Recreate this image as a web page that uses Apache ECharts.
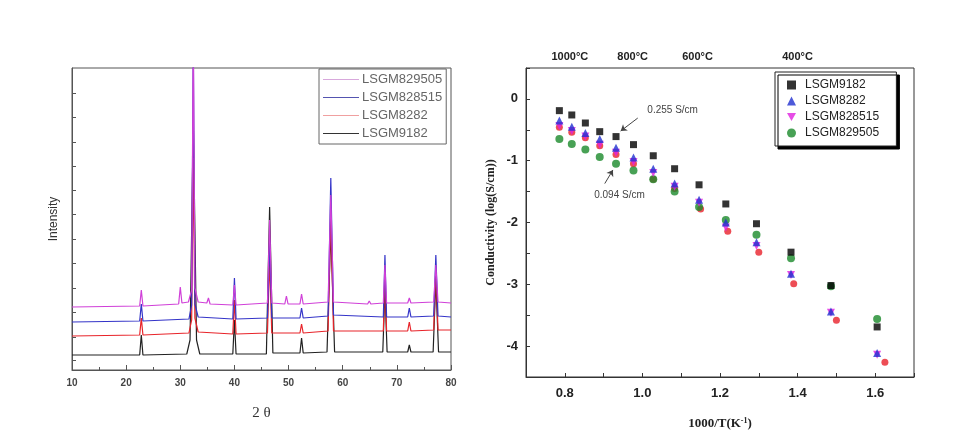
<!DOCTYPE html>
<html><head><meta charset="utf-8">
<script src="https://cdn.jsdelivr.net/npm/echarts@6/dist/echarts.min.js"></script>
<style>html,body{margin:0;padding:0;background:#fff}#c{width:979px;height:448px}</style>
</head><body><div id="c"></div>
<script>
// ---------- Left panel: XRD patterns [2theta, intensity] ----------
const xrd829505 = [[10,63],[22.5,64],[22.8,80],[23.1,64],[29.7,66],[30.0,83],[30.3,67],[31.5,68],[32.1,80],[32.4,340],[32.7,82],[33.3,68],[34.9,67],[35.2,72],[35.5,66],[39.7,65],[40.0,85],[40.3,65],[46.1,67],[46.5,150],[46.9,67],[49.3,66],[49.6,74],[49.9,66],[52.1,66],[52.4,76],[52.7,66],[57.3,68],[57.8,175],[58.3,68],[64.6,66],[64.9,69],[65.2,66],[67.5,67],[67.8,105],[68.1,67],[72.0,67],[72.3,72],[72.6,67],[76.8,68],[77.2,105],[77.6,68],[80,67]];
const xrd828515 = [[10,48],[22.5,49],[22.8,66],[23.1,49],[31.6,51],[32.1,65],[32.4,330],[32.7,66],[33.3,53],[39.7,51],[40.0,92],[40.3,51],[46.1,52],[46.5,130],[46.9,52],[52.1,52],[52.4,62],[52.7,52],[57.3,54],[57.8,192],[58.3,55],[67.5,53],[67.8,115],[68.1,53],[72.0,53],[72.3,62],[72.6,53],[76.8,54],[77.2,115],[77.6,54],[80,53]];
const xrd8282 = [[10,34],[22.5,35],[22.8,52],[23.1,35],[31.6,37],[32.1,50],[32.4,212],[32.7,52],[33.3,38],[39.7,36],[40.0,70],[40.3,36],[46.1,37],[46.5,110],[46.9,37],[52.1,37],[52.4,46],[52.7,37],[57.3,39],[57.8,158],[58.3,39],[67.5,39],[67.8,95],[68.1,39],[72.0,39],[72.3,48],[72.6,39],[76.8,40],[77.2,100],[77.6,40],[80,40]];
const xrd9182 = [[10,15],[22.5,15],[22.8,35],[23.1,15],[31.2,16],[31.8,30],[32.4,250],[33.0,30],[33.6,16],[39.7,16],[40.0,50],[40.3,16],[45.9,16],[46.5,163],[47.1,17],[52.1,17],[52.4,32],[52.7,17],[57.1,18],[57.8,140],[58.5,18],[67.4,18],[67.8,80],[68.2,18],[72.0,18],[72.3,25],[72.6,18],[76.7,18],[77.2,90],[77.7,18],[80,18]];
const xrdTickValues = [10,33,58,82,107,131,156,180,204,228,253,277];

// ---------- Right panel: conductivity ----------
const invT = [0.786,0.818,0.853,0.890,0.932,0.977,1.028,1.083,1.146,1.215,1.294,1.383,1.486,1.605];
const invT_r = [0.786,0.818,0.853,0.890,0.932,0.977,1.028,1.083,1.150,1.220,1.300,1.390,1.500,1.625];
const cond9182   = [-0.19,-0.26,-0.39,-0.53,-0.61,-0.74,-0.92,-1.13,-1.39,-1.70,-2.02,-2.48,-3.02,-3.69];
const cond8282   = [-0.35,-0.45,-0.55,-0.65,-0.79,-0.95,-1.13,-1.37,-1.63,-2.00,-2.32,-2.83,-3.44,-4.11];
const cond828515 = [-0.44,-0.52,-0.61,-0.74,-0.87,-1.02,-1.20,-1.42,-1.68,-2.08,-2.38,-2.85,-3.46,-4.14];
const cond829505 = [-0.65,-0.73,-0.82,-0.94,-1.05,-1.16,-1.30,-1.50,-1.75,-1.96,-2.20,-2.58,-3.03,-3.56];
const condRed    = [-0.46,-0.54,-0.63,-0.76,-0.90,-1.05,-1.30,-1.45,-1.78,-2.14,-2.48,-2.99,-3.58,-4.26];
const xLabelValues = [0.8, 1.0, 1.2, 1.4, 1.6];
const xTickValues = [0.7,0.8,0.9,1.0,1.1,1.2,1.3,1.4,1.5,1.6,1.7];
const yLabelValues = [-4, -3, -2, -1, 0];
const yTickValues = [-4.5,-4,-3.5,-3,-2.5,-2,-1.5,-1,-0.5,0,0.5];
const tempLabelPos = [0.813,0.975,1.142,1.400];
const tempLabels = ['1000°C','800°C','600°C','400°C'];

const zip = (xs, ys) => xs.map((x, i) => [x, ys[i]]);

const chart = echarts.init(document.getElementById('c'));
const axisCol = '#333';
const lineIcon = 'path://M0,6.5 L36,6.5 L36,7.7 L0,7.7 Z';
chart.setOption({
  animation: false,
  backgroundColor: '#fff',
  grid: [
    {left: 72, right: 528, top: 68, bottom: 78, show: true, borderColor: '#555', borderWidth: 1},
    {left: 526, right: 65, top: 68, bottom: 71, show: true, borderColor: '#333', borderWidth: 1}
  ],
  xAxis: [
    {gridIndex: 0, type: 'value', min: 10, max: 80, interval: 10,
     name: '2 θ', nameLocation: 'middle', nameGap: 36,
     nameTextStyle: {fontFamily: 'Liberation Serif', fontSize: 15, color: '#333'},
     axisLine: {onZero: false, lineStyle: {color: '#555'}},
     axisTick: {inside: true, length: 5, lineStyle: {color: '#555'}},
     minorTick: {show: true, splitNumber: 2, length: 3, lineStyle: {color: '#555'}},
     splitLine: {show: false},
     axisLabel: {fontFamily: 'Liberation Sans', fontSize: 10, fontWeight: 'bold', color: '#444', margin: 8}},
    {gridIndex: 1, type: 'value', min: 0.7, max: 1.7,
     name: '1000/T(K{sup|-1})', nameLocation: 'middle', nameGap: 40,
     nameTextStyle: {fontFamily: 'Liberation Serif', fontSize: 13, fontWeight: 'bold', color: '#222',
       rich: {sup: {fontSize: 8, fontWeight: 'bold', verticalAlign: 'top', padding: [0,0,6,0], fontFamily: 'Liberation Serif'}}},
     axisLine: {onZero: false, lineStyle: {color: axisCol}},
     axisTick: {inside: true, length: 4, customValues: xTickValues, lineStyle: {color: axisCol}},
     splitLine: {show: false},
     axisLabel: {customValues: xLabelValues, fontFamily: 'Liberation Sans', fontSize: 13, fontWeight: 'bold', color: '#222', margin: 10,
       formatter: v => v.toFixed(1)}},
    {gridIndex: 1, type: 'value', min: 0.7, max: 1.7, position: 'top',
     axisLine: {show: false, onZero: false}, axisTick: {show: false}, splitLine: {show: false},
     axisLabel: {customValues: tempLabelPos, margin: 6,
       formatter: v => tempLabels[tempLabelPos.indexOf(v)] || '',
       fontFamily: 'Liberation Sans', fontSize: 11, fontWeight: 'bold', color: '#222'}}
  ],
  yAxis: [
    {gridIndex: 0, type: 'value', min: 0, max: 302,
     name: 'Intensity', nameLocation: 'middle', nameGap: 12,
     nameTextStyle: {fontFamily: 'Liberation Sans', fontSize: 12, color: '#333'},
     axisLine: {onZero: false, lineStyle: {color: '#555'}},
     axisTick: {inside: true, length: 4, customValues: xrdTickValues, lineStyle: {color: '#555'}},
     splitLine: {show: false}, axisLabel: {show: false}},
    {gridIndex: 1, type: 'value', min: -4.5, max: 0.5,
     name: 'Conductivity (log(S/cm))', nameLocation: 'middle', nameGap: 29,
     nameTextStyle: {fontFamily: 'Liberation Serif', fontSize: 12, fontWeight: 'bold', color: '#222'},
     axisLine: {onZero: false, lineStyle: {color: axisCol}},
     axisTick: {inside: true, length: 4, customValues: yTickValues, lineStyle: {color: axisCol}},
     splitLine: {show: false},
     axisLabel: {customValues: yLabelValues, fontFamily: 'Liberation Sans', fontSize: 13, fontWeight: 'bold', color: '#222', margin: 8}}
  ],
  legend: [
    {orient: 'vertical', left: 319, top: 69, width: 131, padding: [4, 4, 4, 4], itemGap: 5,
     itemWidth: 36, itemHeight: 14, borderColor: '#666', borderWidth: 1, backgroundColor: '#fff',
     data: [
       {name: 'LSGM829505', icon: lineIcon, itemStyle: {color: '#d8a8dc', borderWidth: 0}},
       {name: 'LSGM828515', icon: lineIcon, itemStyle: {color: '#5454b0', borderWidth: 0}},
       {name: 'LSGM8282', icon: lineIcon, itemStyle: {color: '#f0a0a0', borderWidth: 0}},
       {name: 'LSGM9182', icon: lineIcon, itemStyle: {color: '#333', borderWidth: 0}}
     ],
     textStyle: {fontFamily: 'Liberation Sans', fontSize: 13, color: '#666', padding: [0,0,0,-2]}},
    {orient: 'vertical', left: 775, top: 72, padding: [7, 14, 7, 12], itemGap: 4,
     itemWidth: 9, itemHeight: 9, borderColor: '#222', borderWidth: 1, backgroundColor: '#fff',
     shadowColor: '#000', shadowOffsetX: 3, shadowOffsetY: 3, shadowBlur: 0,
     data: ['LSGM9182 ','LSGM8282 ',{name: 'LSGM828515 ', icon: 'path://M0,0 L10,0 L5,9 Z'},'LSGM829505 '],
     textStyle: {fontFamily: 'Liberation Sans', fontSize: 12, color: '#222', padding: [0,0,0,4]}}
  ],
  series: [
    {name: 'LSGM9182', type: 'line', xAxisIndex: 0, yAxisIndex: 0, data: xrd9182, symbol: 'none',
     lineStyle: {width: 1.2, color: '#222'}, itemStyle: {color: '#222'}, clip: true, z: 2},
    {name: 'LSGM8282', type: 'line', xAxisIndex: 0, yAxisIndex: 0, data: xrd8282, symbol: 'none',
     lineStyle: {width: 1.2, color: '#e8242a'}, itemStyle: {color: '#e8242a'}, clip: true, z: 3},
    {name: 'LSGM828515', type: 'line', xAxisIndex: 0, yAxisIndex: 0, data: xrd828515, symbol: 'none',
     lineStyle: {width: 1.2, color: '#3434c8'}, itemStyle: {color: '#3434c8'}, clip: true, z: 4},
    {name: 'LSGM829505', type: 'line', xAxisIndex: 0, yAxisIndex: 0, data: xrd829505, symbol: 'none',
     lineStyle: {width: 1.2, color: '#d040d8'}, itemStyle: {color: '#d040d8'}, clip: true, z: 5},

    {name: 'red', type: 'scatter', xAxisIndex: 1, yAxisIndex: 1, data: zip(invT_r, condRed),
     symbol: 'circle', symbolSize: 7, itemStyle: {color: '#e8202a'}, z: 3},
    {name: 'LSGM829505 ', type: 'scatter', xAxisIndex: 1, yAxisIndex: 1, data: zip(invT, cond829505),
     symbol: 'circle', symbolSize: 8, itemStyle: {color: '#1a8a2a'}, z: 4},
    {name: 'LSGM828515 ', type: 'scatter', xAxisIndex: 1, yAxisIndex: 1, data: zip(invT, cond828515),
     symbol: 'triangle', symbolRotate: 180, symbolSize: 8, itemStyle: {color: '#e020e0'}, z: 5},
    {name: 'LSGM8282 ', type: 'scatter', xAxisIndex: 1, yAxisIndex: 1, data: zip(invT, cond8282),
     symbol: 'triangle', symbolSize: 8, itemStyle: {color: '#2030d0'}, z: 6},
    {name: 'LSGM9182 ', type: 'scatter', xAxisIndex: 1, yAxisIndex: 1, data: zip(invT, cond9182),
     symbol: 'rect', symbolSize: 7, itemStyle: {color: '#000'}, z: 7,
     markLine: {silent: true, symbol: ['none', 'arrow'], symbolSize: 6, animation: false,
       lineStyle: {color: '#444', width: 1, type: 'solid'}, label: {show: false},
       data: [
         [{coord: [0.988, -0.31]}, {coord: [0.944, -0.52]}],
         [{coord: [0.903, -1.37]}, {coord: [0.924, -1.15]}]
       ]},
     markPoint: {silent: true, symbol: 'rect', symbolSize: 1, itemStyle: {color: 'rgba(0,0,0,0)'},
       label: {show: true, position: 'inside', formatter: '{b}', fontFamily: 'Liberation Sans', fontSize: 10, color: '#444'},
       data: [
         {name: '0.255 S/cm', coord: [1.078, -0.19]},
         {name: '0.094 S/cm', coord: [0.941, -1.56]}
       ]}}
  ]
});
</script></body></html>
